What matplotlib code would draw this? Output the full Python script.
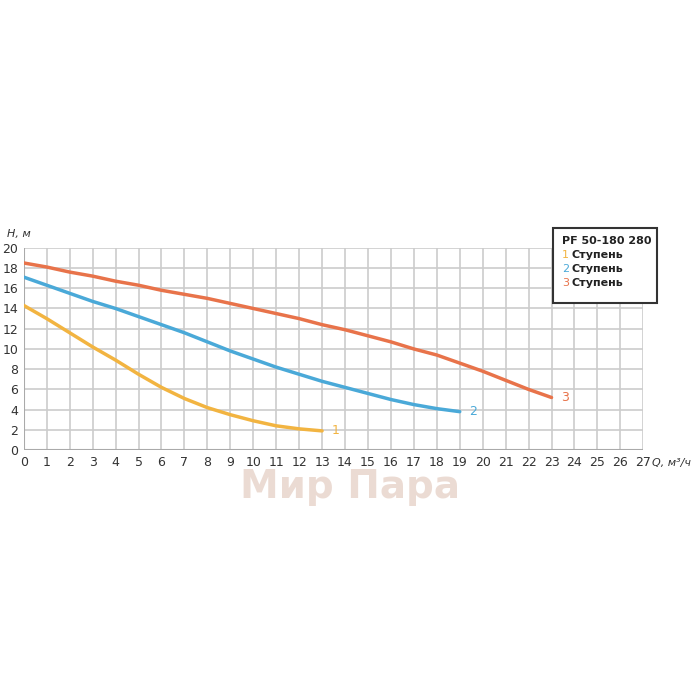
import matplotlib
matplotlib.use("Agg")
import matplotlib.pyplot as plt
from matplotlib.patches import Rectangle

q1 = list(range(0, 14))
h1 = [14.3, 13.0, 11.6, 10.2, 8.9, 7.5, 6.2, 5.1, 4.2, 3.5, 2.9, 2.4, 2.1, 1.9]
q2 = list(range(0, 20))
h2 = [17.1, 16.3, 15.5, 14.7, 14.0, 13.2, 12.4, 11.6, 10.7, 9.8, 9.0, 8.2, 7.5, 6.8, 6.2, 5.6, 5.0, 4.5, 4.1, 3.8]
q3 = list(range(0, 24))
h3 = [18.5, 18.1, 17.6, 17.2, 16.7, 16.3, 15.8, 15.4, 15.0, 14.5, 14.0, 13.5, 13.0, 12.4, 11.9, 11.3, 10.7, 10.0, 9.4, 8.6, 7.8, 6.9, 6.0, 5.2]
colors = ["#f2b441", "#4aa9d8", "#e8734a"]
labels = ["1", "2", "3"]

fig = plt.figure(figsize=(7, 7), dpi=100)
ax = fig.add_axes([0.034, 0.357, 0.885, 0.289])
ax.set_xlim(0, 27)
ax.set_ylim(0, 20)
ax.set_xticks(range(0, 28))
ax.set_yticks(range(0, 21, 2))
ax.grid(True, color="#cccccc", lw=1.2)
for s in ax.spines.values():
    s.set_visible(False)
ax.axhline(0, color="#aaaaaa", lw=1.5)
ax.axvline(0, color="#aaaaaa", lw=1.5)
ax.tick_params(length=0, labelsize=9, colors="#333333", pad=4)

for q, h, c, l in [(q1, h1, colors[0], labels[0]), (q2, h2, colors[1], labels[1]), (q3, h3, colors[2], labels[2])]:
    ax.plot(q, h, color=c, lw=2.5, solid_capstyle="round")
    ax.text(q[-1] + 0.4, h[-1], l, color=c, fontsize=9, va="center")

ax.text(27.4, -1.6, "Q, м³/ч", fontsize=8, style="italic", color="#333333", clip_on=False)
fig.text(0.01, 0.662, "H, м", fontsize=8, style="italic", color="#333333")

fig.text(0.5, 0.305, "Мир Пара", fontsize=28, fontweight="bold", color="#d9b8a8", alpha=0.5, ha="center", va="center", zorder=0)

fig.patches.append(Rectangle((0.79, 0.567), 0.149, 0.108, transform=fig.transFigure, fill=True, fc="white", ec="#333333", lw=1.5))
fig.text(0.803, 0.655, "PF 50-180 280", fontsize=8, fontweight="bold", color="#222222", va="center")
for i, c in enumerate(colors):
    y = 0.635 - i * 0.02
    fig.text(0.803, y, labels[i], fontsize=8, color=c, va="center")
    fig.text(0.816, y, "Ступень", fontsize=8, fontweight="bold", color="#222222", va="center")

fig.savefig("out.png")
